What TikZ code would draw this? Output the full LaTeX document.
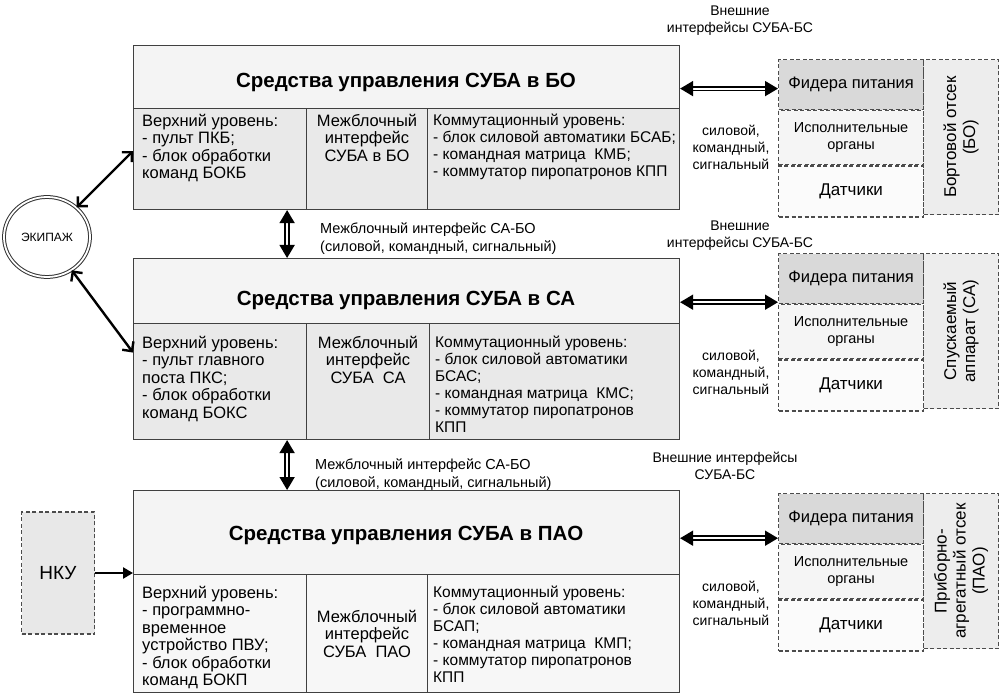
\documentclass[tikz,border=0pt]{standalone}
\usepackage{fontspec}
\setmainfont{Liberation Sans}
\usetikzlibrary{arrows.meta,positioning,shapes.geometric}

\tikzset{
	frame/.style={draw=black!75,line width=1.1pt,inner sep=0pt,anchor=north west},
	ttlbox/.style={frame,fill=gray!9},
	cellbox/.style={frame,fill=gray!17},
	ttltext/.style={font=\fontsize{20.5}{24}\selectfont\bfseries},
	txt/.style={inner sep=0pt,align=left,font=\fontsize{16.5}{17.5}\selectfont},
	ctxt/.style={txt,align=center},
	rtxt/.style={txt,font=\fontsize{15.5}{17}\selectfont},
	dashbox/.style={draw=black!70,line width=1.2pt,dash pattern=on 4pt off 2.5pt,inner sep=0pt,anchor=north west,font=\fontsize{16.5}{17}\selectfont,align=center},
	lbl/.style={inner sep=0pt,font=\fontsize{14}{17}\selectfont,align=center},
	dblarr/.style={line width=1.8pt,double=white,double distance=2pt,{Triangle[length=13pt,width=15pt]}-{Triangle[length=13pt,width=15pt]}},
	crewarr/.style={line width=2.4pt,{Straight Barb[length=7pt,width=14pt]}-{Straight Barb[length=7pt,width=14pt]}},
}

\begin{document}
\begin{tikzpicture}[x=1pt,y=-1pt]
	\useasboundingbox (0,0) rectangle (1002,695);
	% block BO
	\node[ttlbox,minimum width=546,minimum height=63] (boT) at (133,45) {};
	\node[ttltext] at (406,82) {Средства управления СУБА в БО};
	\node[cellbox,minimum width=173,minimum height=101] (boA) at (133,108) {};
	\node[cellbox,minimum width=121,minimum height=101] (boB) at (306,108) {};
	\node[cellbox,minimum width=252,minimum height=101] (boC) at (427,108) {};
	\node[txt,below right=6pt and 9pt of boA.north west] {Верхний уровень:\\- пульт ПКБ;\\- блок обработки\\команд БОКБ};
	\node[ctxt,below=6pt of boB.north] {Межблочный\\интерфейс\\СУБА в БО};
	\node[rtxt,below right=6pt and 6pt of boC.north west] {Коммутационный уровень:\\- блок силовой автоматики БСАБ;\\- командная матрица\ \ КМБ;\\- коммутатор пиропатронов КПП};
	% block CA
	\node[ttlbox,minimum width=546,minimum height=65] (caT) at (133,258) {};
	\node[ttltext] at (406,300) {Средства управления СУБА в СА};
	\node[cellbox,minimum width=173,minimum height=116] (caA) at (133,323) {};
	\node[cellbox,minimum width=123,minimum height=116] (caB) at (306,323) {};
	\node[cellbox,minimum width=250,minimum height=116] (caC) at (429,323) {};
	\node[txt,below right=13pt and 9pt of caA.north west] {Верхний уровень:\\- пульт главного\\поста ПКС;\\- блок обработки\\команд БОКС};
	\node[ctxt,below=13pt of caB.north] {Межблочный\\интерфейс\\СУБА\ \ СА};
	\node[rtxt,below right=13pt and 6pt of caC.north west] {Коммутационный уровень:\\- блок силовой автоматики\\БСАС;\\- командная матрица\ \ КМС;\\- коммутатор пиропатронов\\КПП};
	% block PAO
	\node[ttlbox,minimum width=546,minimum height=84] (paoT) at (133,490) {};
	\node[ttltext] at (406,535) {Средства управления СУБА в ПАО};
	\node[cellbox,fill=gray!6,minimum width=173,minimum height=118] (paoA) at (133,574) {};
	\node[cellbox,fill=gray!6,minimum width=121,minimum height=118] (paoB) at (306,574) {};
	\node[cellbox,fill=gray!6,minimum width=252,minimum height=118] (paoC) at (427,574) {};
	\node[txt,below right=12pt and 9pt of paoA.north west] {Верхний уровень:\\- программно-\\временное\\устройство ПВУ;\\- блок обработки\\команд БОКП};
	\node[ctxt] at (paoB.center) {Межблочный\\интерфейс\\СУБА\ \ ПАО};
	\node[rtxt,below right=12pt and 6pt of paoC.north west] {Коммутационный уровень:\\- блок силовой автоматики\\БСАП;\\- командная матрица\ \ КМП;\\- коммутатор пиропатронов\\КПП};
	% onboard compartments
	\foreach \t/\nm/\side in {59/bo/{Бортовой отсек\\(БО)},253/ca/{Спускаемый\\аппарат (СА)},493/pao/{Приборно-\\агрегатный отсек\\(ПАО)}}{
		\node[dashbox,fill=gray!30,minimum width=145,minimum height=50] (fid\nm) at (778,\t) {Фидера питания};
		\node[dashbox,fill=gray!8,minimum width=145,minimum height=54,font=\fontsize{14.5}{17}\selectfont,below=0pt of fid\nm] (isp\nm) {Исполнительные\\органы};
		\node[dashbox,fill=gray!3,minimum width=145,minimum height=51,font=\fontsize{17}{17}\selectfont,below=0pt of isp\nm] (dat\nm) {Датчики};
		\node[dashbox,fill=gray!14,minimum width=75,minimum height=155] (side\nm) at (923,\t) {};
		\node[rotate=90,align=center,font=\fontsize{17}{19}\selectfont] at (side\nm.center) {\side};
	}
	% crew and ground
	\node[ellipse,draw=black!80,line width=1pt,double,double distance=1.8pt,minimum width=86,minimum height=80,inner sep=0pt,font=\fontsize{12}{14}\selectfont] (crew) at (47,237) {ЭКИПАЖ};
	\draw[crewarr] (crew) -- ([yshift=8pt]boA.west);
	\draw[crewarr] (crew) -- ([yshift=29pt]caA.west);
	\node[dashbox,anchor=center,fill=gray!18,minimum width=73,minimum height=122,font=\fontsize{19}{20}\selectfont] (nku) at (58,573) {НКУ};
	\draw[line width=2.4pt,-{Triangle[length=10pt,width=11pt]}] (nku.east) -- (nku.east -| paoA.west);
	% interfaces
	\coordinate (v1) at ([xshift=-20pt]boA.south east);
	\draw[dblarr] (v1) -- (v1 |- caT.north);
	\coordinate (v2) at ([xshift=-20pt]caA.south east);
	\draw[dblarr] (v2) -- (v2 |- paoT.north);
	\node[lbl,align=left,anchor=west,font=\fontsize{14.5}{18}\selectfont] at (320,239) {Межблочный интерфейс СА-БО\\(силовой, командный, сигнальный)};
	\node[lbl,align=left,anchor=west,font=\fontsize{14.5}{18}\selectfont] at (315,475) {Межблочный интерфейс СА-БО\\(силовой, командный, сигнальный)};
	\coordinate (boR) at ([yshift=-4pt]fidbo.west);
	\draw[dblarr] (boR -| boT.east) -- (boR);
	\coordinate (caR) at ([yshift=2pt]fidca.south west);
	\draw[dblarr] (caR -| caT.east) -- (caR);
	\coordinate (paoR) at ([yshift=6pt]fidpao.south west);
	\draw[dblarr] (paoR -| paoT.east) -- (paoR);
	\node[lbl] at (740,21) {Внешние\\интерфейсы СУБА-БС};
	\node[lbl] at (740,236) {Внешние\\интерфейсы СУБА-БС};
	\node[lbl] at (725,466) {Внешние интерфейсы\\СУБА-БС};
	\node[lbl] at (731,147) {силовой,\\командный,\\сигнальный};
	\node[lbl] at (731,372) {силовой,\\командный,\\сигнальный};
	\node[lbl] at (731,603) {силовой,\\командный,\\сигнальный};
\end{tikzpicture}
\end{document}
